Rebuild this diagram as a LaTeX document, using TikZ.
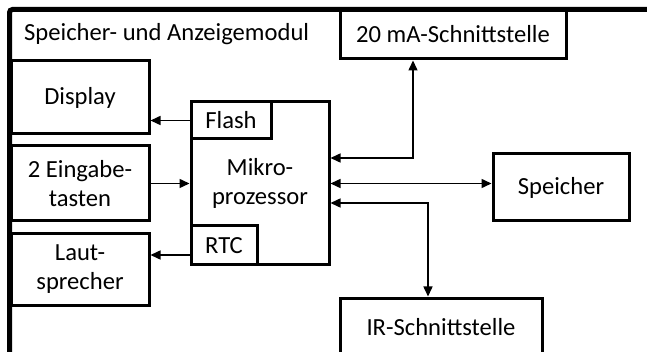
\documentclass[tikz,border=0pt]{standalone}
\usepackage{fontspec}
\setmainfont{Carlito}
\usetikzlibrary{arrows.meta,calc}
\begin{document}
\begin{tikzpicture}[x=1pt,y=-1pt,
 lbl/.style={font=\fontsize{24.6}{29}\selectfont, inner sep=0pt},
 box/.style={draw, line width=3pt, inner sep=0pt, align=center, font=\fontsize{24.6}{29}\selectfont},
 arr/.style={line width=1.5pt, -{Triangle[length=10pt,width=9pt]}},
 darr/.style={line width=1.5pt, {Triangle[length=10pt,width=9pt]}-{Triangle[length=10pt,width=9pt]}}]
\useasboundingbox (0,0) rectangle (647,352);
\begin{scope}
\clip (0,0) rectangle (647,352);
\coordinate (fbl) at (9.5,370);
\coordinate (ftl) at (9.5,9.5);
\coordinate (ftr) at (670,9.5);
\node[lbl, anchor=west] (title) at (24,34) {Speicher- und Anzeigemodul};
\node[box, minimum width=138pt, minimum height=73pt] (display) at (80,97.5) {Display};
\node[box, minimum width=138pt, minimum height=75pt] (eingabe) at (80,183.5) {2 Eingabe-\\tasten};
\node[box, minimum width=138pt, minimum height=71pt] (laut) at (80,269.5) {Laut-\\sprecher};
\node[box, minimum width=138pt, minimum height=163pt] (mikro) at (260,183.5) {Mikro-\\prozessor};
\node[box, minimum width=80pt, minimum height=37pt] (flash) at (231,120.5) {Flash};
\node[box, minimum width=66pt, minimum height=39pt] (rtc) at (224,245.5) {RTC};
\node[box, minimum width=226pt, minimum height=49pt] (ma) at (453,34.5) {20 mA-Schnittstelle};
\node[box, minimum width=136pt, minimum height=67pt] (speicher) at (561,187.5) {Speicher};
\node[box, minimum width=202pt, minimum height=58pt] (ir) at (441,327) {IR-Schnittstelle};
\draw[line width=5pt, rounded corners=3pt] (fbl) -- (ftl) -- (ftr);
\draw[arr] (flash.west) -- (flash.west -| display.east);
\draw[arr] (eingabe.east) -- (eingabe.east -| mikro.west);
\draw[arr] ([yshift=-9.5pt]rtc.west) -- ([yshift=-9.5pt]rtc.west -| laut.east);
\draw[darr] ([xshift=-40pt]ma.south) |- ([yshift=25.5pt]mikro.east);
\draw[darr] (mikro.east) -- (mikro.east -| speicher.west);
\draw[darr] ([yshift=-19.5pt]mikro.east) -| ([xshift=-13pt]ir.north);
\end{scope}
\end{tikzpicture}
\end{document}
